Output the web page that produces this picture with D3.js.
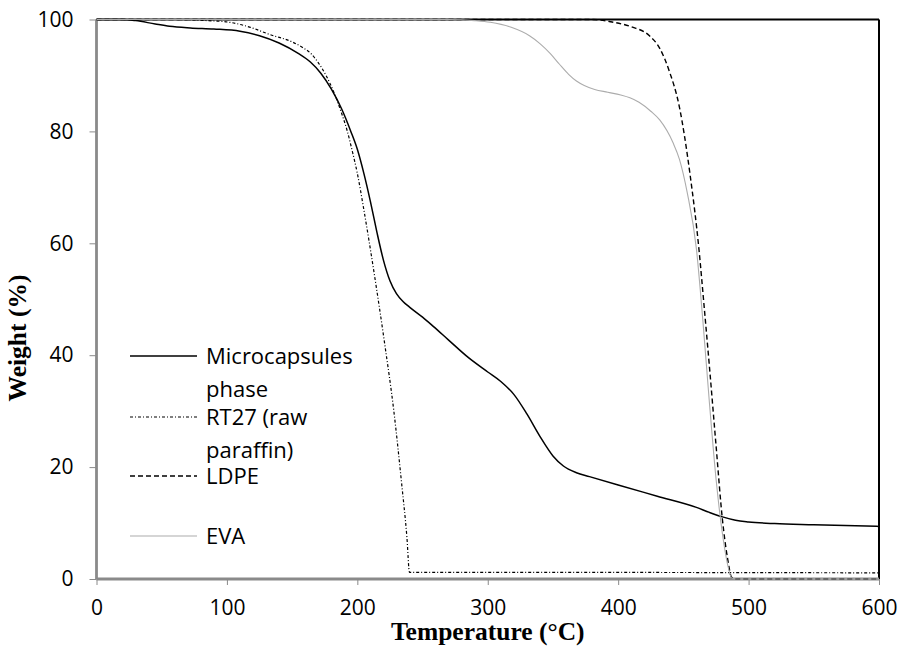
<!DOCTYPE html>
<html>
<head>
<meta charset="utf-8">
<script src="https://cdn.jsdelivr.net/npm/d3@7"></script>
<style>
  body { margin: 0; background: #fff; }
  svg { display: block; }
</style>
</head>
<body>
<svg width="909" height="651"></svg>
<script>
// Data (temperature in °C, weight in %)
var microT = [0, 20, 30, 45, 56, 72, 90, 110, 125, 140, 155, 164, 172, 180, 188, 195, 200, 205, 210, 215, 220, 225, 230, 235, 240, 250, 258, 270, 285, 300, 310, 320, 330, 340, 350, 358, 368, 378, 400, 430, 460, 470, 480, 490, 500, 520, 550, 600];
var microW = [100, 100, 99.8, 99.2, 98.8, 98.5, 98.3, 97.9, 97.1, 95.8, 93.9, 92.4, 90.4, 87.6, 84, 80, 76.8, 72.5, 67.5, 62, 57, 53.3, 51, 49.6, 48.6, 46.8, 45.2, 42.7, 39.6, 37, 35.3, 33, 29.5, 25.5, 22, 20.2, 19, 18.3, 16.8, 14.8, 12.8, 11.9, 11.1, 10.5, 10.2, 9.9, 9.7, 9.4];

var rt27T = [0, 60, 85, 102, 118, 133, 150, 158, 164, 170, 176, 182, 188, 192, 196, 200, 205, 213, 221, 228, 234, 238, 240, 250, 600];
var rt27W = [100, 100, 99.8, 99.5, 98.6, 97.3, 96, 95, 94, 92.3, 90, 87, 83.2, 80.3, 76.6, 72.5, 66, 54.5, 42, 30, 17, 7.5, 1.2, 1.2, 1.1];

var ldpeT = [0, 380, 394, 410, 424, 432, 439, 447, 455, 462, 466, 470, 475, 480, 484, 487, 490, 600];
var ldpeW = [100, 100, 99.6, 98.7, 97.1, 94.8, 90.9, 84.3, 72.5, 58.8, 48.5, 37.9, 24, 10.5, 3.5, 0.3, 0, 0];

var evaT = [0, 270, 290, 302, 318, 332, 340, 348, 355, 362, 368, 374, 382, 392, 402, 409, 416, 425, 432, 442, 447, 453, 460, 465, 470, 475, 480, 484, 487, 490, 600];
var evaW = [100, 100, 99.8, 99.5, 98.6, 97.1, 95.7, 93.9, 92, 90.2, 89, 88.2, 87.5, 87, 86.5, 86, 85.2, 83.6, 82, 78, 75, 69, 59, 46, 31.4, 18, 8, 2.5, 0.2, 0, 0];

var seriesNames = ["Microcapsules phase", "RT27 (raw paraffin)", "LDPE", "EVA"];
var legendLines = [["Microcapsules", "phase"], ["RT27 (raw", "paraffin)"], ["LDPE"], ["EVA"]];
var xTicks = [0, 100, 200, 300, 400, 500, 600];
var yTicks = [0, 20, 40, 60, 80, 100];

var svg = d3.select("svg");

// plot area edges (named so they don't clash with window.top)
var plotL = 96.5, plotR = 879, plotT = 19.5, plotB = 579;

var x = d3.scaleLinear().domain([0, 600]).range([plotL, plotR]);
var y = d3.scaleLinear().domain([0, 100]).range([plotB, plotT]);

function zipSeries(ts, ws) {
  return ts.map(function(t, i){ return {t: t, w: ws[i]} });
}

var series = [
  {name: seriesNames[0], pts: zipSeries(microT, microW), color: "#000", width: 1.5, dash: null},
  {name: seriesNames[1], pts: zipSeries(rt27T, rt27W), color: "#000", width: 1.2, dash: "3,2,1,2"},
  {name: seriesNames[2], pts: zipSeries(ldpeT, ldpeW), color: "#000", width: 1.4, dash: "5,3"},
  {name: seriesNames[3], pts: zipSeries(evaT, evaW), color: "#acacac", width: 1.1, dash: null}
];

var axisGrey = "#8a8a8a";

// Top and right border of the plot area
svg.append("line").attr("x1", plotL).attr("x2", plotR).attr("y1", plotT).attr("y2", plotT)
  .attr("stroke", "#000").attr("stroke-width", 2);
svg.append("line").attr("x1", plotR).attr("x2", plotR).attr("y1", plotT).attr("y2", plotB)
  .attr("stroke", "#000").attr("stroke-width", 2);

// Axes
var xAxis = svg.append("g").attr("transform", "translate(0," + plotB + ")")
  .call(d3.axisBottom(x).tickValues(xTicks).tickSize(6).tickPadding(15));
var yAxis = svg.append("g").attr("transform", "translate(" + plotL + ",0)")
  .call(d3.axisLeft(y).tickValues(yTicks).tickSize(7).tickPadding(16));

[xAxis, yAxis].forEach(function(a){
  a.select(".domain").attr("stroke", axisGrey).attr("stroke-width", 2.8);
  a.selectAll(".tick line").attr("stroke", axisGrey).attr("stroke-width", 1);
  a.selectAll(".tick text")
    .attr("fill", "#000")
    .style("font-family", "'Open Sans', sans-serif")
    .style("font-size", "21px");
});
xAxis.select(".domain").attr("d", "M" + plotL + ",0H" + plotR);
yAxis.select(".domain").attr("d", "M0," + plotT + "V" + plotB);

// Curves
var line = d3.line()
  .x(function(d){ return x(d.t) })
  .y(function(d){ return y(d.w) })
  .curve(d3.curveMonotoneX);

svg.append("g")
  .selectAll("path")
  .data(series)
  .enter()
  .append("path")
    .attr("d", function(d){ return line(d.pts) })
    .attr("fill", "none")
    .attr("stroke", function(d){ return d.color })
    .attr("stroke-width", function(d){ return d.width })
    .attr("stroke-dasharray", function(d){ return d.dash })
    .attr("stroke-linejoin", "round");

// Legend
var legendY = [356, 417, 476, 536];
var legend = svg.append("g");
series.forEach(function(s, i){
  legend.append("line")
    .attr("x1", 130).attr("x2", 197)
    .attr("y1", legendY[i]).attr("y2", legendY[i])
    .attr("stroke", s.color).attr("stroke-width", s.width > 1.3 ? 1.3 : s.width)
    .attr("stroke-dasharray", s.dash);
  legendLines[i].forEach(function(txt, j){
    legend.append("text")
      .attr("x", 206)
      .attr("y", legendY[i] + 8 + j * 33)
      .text(txt)
      .style("font-family", "'Open Sans', sans-serif")
      .style("font-size", "22px");
  });
});

// Axis titles
svg.append("text")
  .attr("x", (plotL + plotR) / 2)
  .attr("y", 640)
  .attr("text-anchor", "middle")
  .text("Temperature (°C)")
  .style("font-family", "'Liberation Serif', 'Times New Roman', serif")
  .style("font-weight", "bold")
  .style("font-size", "25.5px");

svg.append("text")
  .attr("transform", "translate(26,338) rotate(-90)")
  .attr("text-anchor", "middle")
  .text("Weight (%)")
  .style("font-family", "'Liberation Serif', 'Times New Roman', serif")
  .style("font-weight", "bold")
  .style("font-size", "25.5px");
</script>
</body>
</html>
